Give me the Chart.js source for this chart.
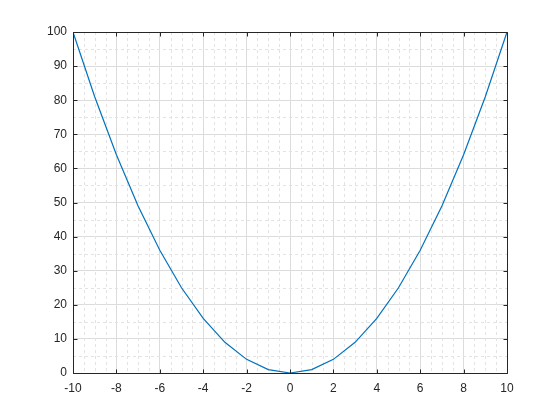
<!DOCTYPE html>
<html>
<head>
<meta charset="utf-8">
<script src="https://cdn.jsdelivr.net/npm/chart.js@4"></script>
<style>
  html, body { margin: 0; padding: 0; background: #fff; }
  #wrap { width: 560px; height: 420px; }
</style>
</head>
<body>
<div id="wrap"><canvas id="parabola_chart" width="560" height="420"></canvas></div>
<script>
// Data
const xValues = [-10, -9, -8, -7, -6, -5, -4, -3, -2, -1, 0, 1, 2, 3, 4, 5, 6, 7, 8, 9, 10];
const yValues = [100, 81, 64, 49, 36, 25, 16, 9, 4, 1, 0, 1, 4, 9, 16, 25, 36, 49, 64, 81, 100];
const xTicks = [-10, -8, -6, -4, -2, 0, 2, 4, 6, 8, 10];
const yTicks = [0, 10, 20, 30, 40, 50, 60, 70, 80, 90, 100];
const xMinor = [-9.5, -9, -8.5, -7.5, -7, -6.5, -5.5, -5, -4.5, -3.5, -3, -2.5, -1.5, -1, -0.5,
                0.5, 1, 1.5, 2.5, 3, 3.5, 4.5, 5, 5.5, 6.5, 7, 7.5, 8.5, 9, 9.5];
const yMinor = [5, 15, 25, 35, 45, 55, 65, 75, 85, 95];

const axisColor = '#262626';

/**
 * Minor dotted grid, box and inward ticks (MATLAB look)
 */
const matlabAxes = {
    id: 'matlabAxes',
    beforeDatasetsDraw(chart) {
        const ctx = chart.ctx;
        const a = chart.chartArea;
        const xs = chart.scales.x, ys = chart.scales.y;
        ctx.save();
        ctx.strokeStyle = '#e3e3e3';
        ctx.lineWidth = 1;
        ctx.setLineDash([3, 3]);
        ctx.beginPath();
        xMinor.forEach(v => {
            const px = Math.round(xs.getPixelForValue(v)) + 0.5;
            ctx.moveTo(px, a.top); ctx.lineTo(px, a.bottom);
        });
        yMinor.forEach(v => {
            const py = Math.round(ys.getPixelForValue(v)) + 0.5;
            ctx.moveTo(a.left, py); ctx.lineTo(a.right, py);
        });
        ctx.stroke();
        ctx.restore();
    },
    afterDatasetsDraw(chart) {
        const ctx = chart.ctx;
        const a = chart.chartArea;
        const xs = chart.scales.x, ys = chart.scales.y;
        const l = Math.round(a.left) + 0.5, r = Math.round(a.right) + 0.5;
        const t = Math.round(a.top) + 0.5, b = Math.round(a.bottom) + 0.5;
        ctx.save();
        ctx.strokeStyle = axisColor;
        ctx.lineWidth = 1;
        ctx.setLineDash([]);
        ctx.beginPath();
        ctx.rect(l, t, r - l, b - t);
        xTicks.forEach(v => {
            const px = Math.round(xs.getPixelForValue(v)) + 0.5;
            ctx.moveTo(px, b); ctx.lineTo(px, b - 4);
            ctx.moveTo(px, t); ctx.lineTo(px, t + 4);
        });
        yTicks.forEach(v => {
            const py = Math.round(ys.getPixelForValue(v)) + 0.5;
            ctx.moveTo(l, py); ctx.lineTo(l + 4, py);
            ctx.moveTo(r, py); ctx.lineTo(r - 4, py);
        });
        ctx.stroke();
        ctx.restore();
    }
};

new Chart(document.getElementById('parabola_chart'), {
    type: 'line',
    data: {
        datasets: [{
            data: xValues.map((x, i) => ({ x: x, y: yValues[i] })),
            borderColor: '#0072BD',
            borderWidth: 1.2,
            pointRadius: 0,
            fill: false,
            tension: 0
        }]
    },
    options: {
        responsive: false,
        animation: false,
        layout: { padding: { left: 0, right: 53, top: 32, bottom: 0 } },
        plugins: {
            legend: { display: false },
            tooltip: { enabled: false }
        },
        scales: {
            x: {
                type: 'linear',
                min: -10,
                max: 10,
                afterBuildTicks: s => { s.ticks = xTicks.map(v => ({ value: v })); },
                afterFit: s => { s.height = 47; },
                grid: { color: '#dcdcdc', drawTicks: false },
                border: { display: false },
                ticks: {
                    color: axisColor,
                    padding: 8,
                    maxRotation: 0,
                    font: { family: 'Liberation Sans, Arial, sans-serif', size: 12 }
                }
            },
            y: {
                min: 0,
                max: 100,
                afterBuildTicks: s => { s.ticks = yTicks.map(v => ({ value: v })); },
                afterFit: s => { s.width = 73; },
                grid: { color: '#dcdcdc', drawTicks: false },
                border: { display: false },
                ticks: {
                    color: axisColor,
                    padding: 6,
                    font: { family: 'Liberation Sans, Arial, sans-serif', size: 12 }
                }
            }
        }
    },
    plugins: [matlabAxes]
});
</script>
</body>
</html>
